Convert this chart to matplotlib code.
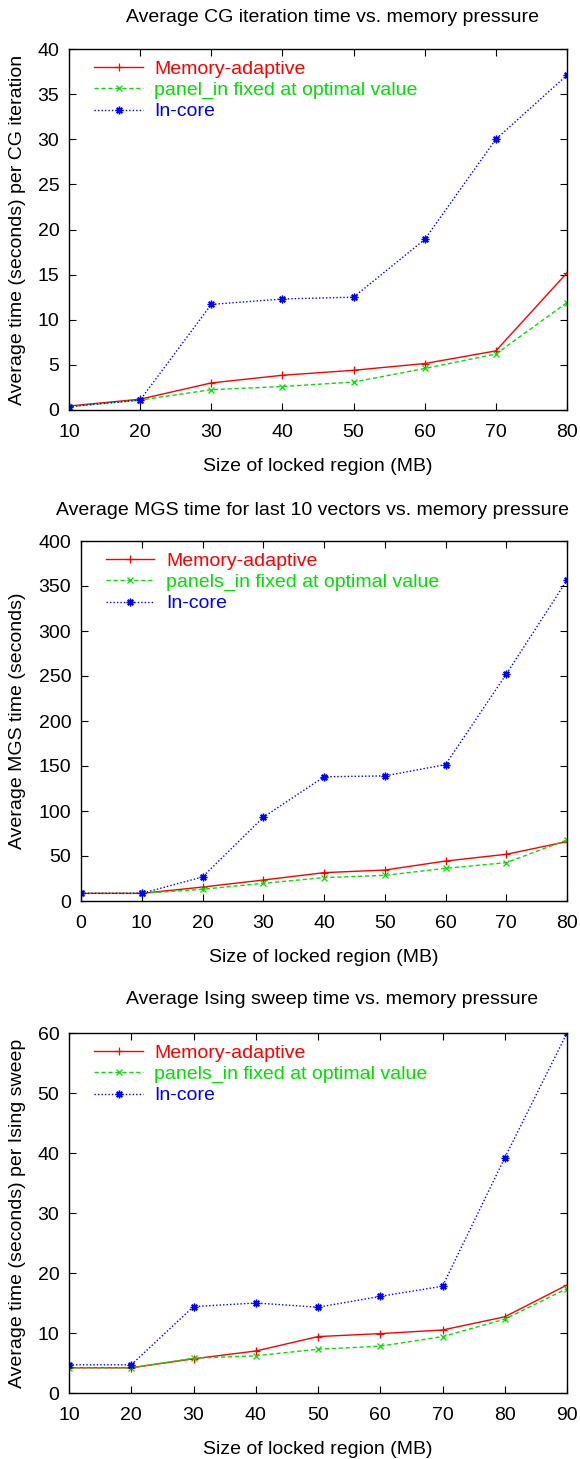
import matplotlib
matplotlib.use("Agg")
import matplotlib.pyplot as plt

W, H = 580, 1459

plt.rcParams["font.family"] = ["Liberation Sans", "DejaVu Sans"]

# panel 1: CG iteration
cg_x = [10, 20, 30, 40, 50, 60, 70, 80]
cg_adaptive = [0.44, 1.2, 3.0, 3.85, 4.4, 5.15, 6.55, 15.2]
cg_fixed = [0.37, 1.1, 2.25, 2.6, 3.1, 4.6, 6.2, 11.9]
cg_incore = [0.37, 1.1, 11.7, 12.3, 12.5, 18.9, 30.0, 37.1]

# panel 2: MGS
mgs_x = [0, 10, 20, 30, 40, 50, 60, 70, 80]
mgs_adaptive = [8.5, 8.5, 15.5, 23.3, 31.5, 34.4, 44.4, 51.9, 66.0]
mgs_fixed = [8.5, 8.5, 13.0, 19.6, 26.0, 28.5, 36.3, 42.6, 67.8]
mgs_incore = [8.5, 8.5, 26.7, 93.0, 138.0, 139.0, 151.5, 252.0, 356.5]

# panel 3: Ising sweep
is_x = [10, 20, 30, 40, 50, 60, 70, 80, 90]
is_adaptive = [4.2, 4.2, 5.7, 7.0, 9.4, 9.9, 10.5, 12.7, 18.0]
is_fixed = [4.2, 4.2, 5.8, 6.2, 7.3, 7.8, 9.4, 12.3, 17.4]
is_incore = [4.7, 4.7, 14.4, 15.0, 14.3, 16.1, 17.8, 39.2, 60.0]

panels = [
    dict(x=cg_x, ys=(cg_adaptive, cg_fixed, cg_incore),
         fixed_label="panel_in fixed at optimal value",
         title="Average CG iteration time vs. memory pressure", title_x=332, title_y=18,
         ylabel="Average time (seconds) per CG iteration",
         box=(69, 567, 49, 410), xlim=(10, 80), ylim=(0, 40), ystep=5),
    dict(x=mgs_x, ys=(mgs_adaptive, mgs_fixed, mgs_incore),
         fixed_label="panels_in fixed at optimal value",
         title="Average MGS time for last 10 vectors vs. memory pressure", title_x=313, title_y=510,
         ylabel="Average MGS time (seconds)",
         box=(81, 567, 541, 901), xlim=(0, 80), ylim=(0, 400), ystep=50),
    dict(x=is_x, ys=(is_adaptive, is_fixed, is_incore),
         fixed_label="panels_in fixed at optimal value",
         title="Average Ising sweep time vs. memory pressure", title_x=332, title_y=1000,
         ylabel="Average time (seconds) per Ising sweep",
         box=(69, 567, 1033, 1393), xlim=(10, 90), ylim=(0, 60), ystep=10),
]

RED, GREEN, BLUE = "#ff0000", "#00e000", "#0000ff"
ASTER = (8, 2, 0)
FS = 14

fig = plt.figure(figsize=(W / 100, H / 100), dpi=100)

for p in panels:
    l, r, t, b = p["box"]
    ax = fig.add_axes([l / W, 1 - b / H, (r - l) / W, (b - t) / H])
    x = p["x"]
    ad, fx, ic = p["ys"]
    ax.plot(x, ad, color=RED, lw=1.0, ls="-", marker="+", ms=6, mew=0.9,
            label="Memory-adaptive")
    ax.plot(x, fx, color=GREEN, lw=1.0, ls=(0, (3, 2)), marker="x", ms=5, mew=0.9,
            label=p["fixed_label"])
    ax.plot(x, ic, color=BLUE, lw=1.0, ls=(0, (1, 1.5)), marker=ASTER, ms=5.5, mew=1.0,
            label="In-core")
    ax.set_xlim(*p["xlim"])
    ax.set_ylim(*p["ylim"])
    ax.set_xticks(range(p["xlim"][0], p["xlim"][1] + 1, 10))
    ax.set_yticks(range(p["ylim"][0], p["ylim"][1] + 1, p["ystep"]))
    ax.tick_params(direction="in", length=5, width=0.8, labelsize=FS,
                   top=True, right=True)
    ax.tick_params(axis="x", pad=10)
    ax.tick_params(axis="y", pad=7)
    for s in ax.spines.values():
        s.set_linewidth(1.0)
    ax.set_xlabel("Size of locked region (MB)", fontsize=FS, labelpad=12)
    fig.text(18 / W, 1 - ((t + b) / 2) / H, p["ylabel"], rotation=90,
             fontsize=FS, ha="center", va="center")
    fig.text(p["title_x"] / W, 1 - p["title_y"] / H, p["title"], fontsize=FS,
             ha="center", va="center")
    leg = ax.legend(loc="upper left", frameon=False, fontsize=14, handlelength=2.5,
                    handletextpad=0.6, labelspacing=0.18, borderaxespad=0.0,
                    bbox_to_anchor=(0.035, 0.99))
    for txt, c in zip(leg.get_texts(), (RED, GREEN, BLUE)):
        txt.set_color(c)

fig.savefig("out.png", dpi=100)
